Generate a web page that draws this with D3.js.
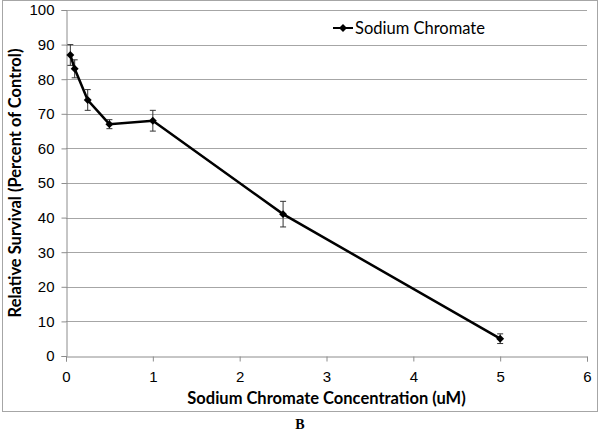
<!DOCTYPE html>
<html>
<head>
<meta charset="utf-8">
<script src="https://cdn.jsdelivr.net/npm/d3@7"></script>
<style>
  body { margin: 0; background: #fff; }
  svg { display: block; font-family: Lato, "Open Sans", sans-serif; }
</style>
</head>
<body>
<svg id="chart" width="600" height="432"></svg>
<script>
const concentration = [0.05, 0.1, 0.25, 0.5, 1, 2.5, 5];
const survival = [87, 83, 74, 67, 68, 41, 5];
const errorBar = [3, 2.6, 3, 1.3, 3, 3.7, 1.4];
const xTicks = [0, 1, 2, 3, 4, 5, 6];
const yTicks = [0, 10, 20, 30, 40, 50, 60, 70, 80, 90, 100];
const seriesName = "Sodium Chromate";

const data = concentration.map((c, i) => ({ x: c, y: survival[i], e: errorBar[i] }));

const svg = d3.select("#chart");
const plot = { left: 66, right: 587, top: 10, bottom: 356 };

// outer frame
svg.append("rect")
    .attr("x", 2.5).attr("y", 0.5)
    .attr("width", 595).attr("height", 411)
    .attr("fill", "none")
    .attr("stroke", "#a6a6a6");

const xScale = d3.scaleLinear().domain([0, 6]).range([plot.left, plot.right]);
const yScale = d3.scaleLinear().domain([0, 100]).range([plot.bottom, plot.top]);

// gridlines
svg.append("g")
    .selectAll("line")
    .data(yTicks.filter((d) => d > 0))
    .join("line")
    .attr("x1", plot.left).attr("x2", plot.right)
    .attr("y1", (d) => Math.round(yScale(d)) + 0.5)
    .attr("y2", (d) => Math.round(yScale(d)) + 0.5)
    .attr("stroke", "#a6a6a6");

const xAxis = svg.append("g")
    .attr("transform", `translate(0, ${plot.bottom + 0.5})`)
    .call(d3.axisBottom(xScale).tickValues(xTicks).tickFormat(d3.format("d")).tickSize(5).tickPadding(10));
const yAxis = svg.append("g")
    .attr("transform", `translate(${plot.left + 0.5}, 0)`)
    .call(d3.axisLeft(yScale).tickValues(yTicks).tickSize(5).tickPadding(7));

[xAxis, yAxis].forEach((ax) => {
    ax.select(".domain").attr("stroke", "#8c8c8c");
    ax.selectAll(".tick line").attr("stroke", "#8c8c8c");
    ax.selectAll(".tick text").attr("fill", "#000").style("font-size", "15px");
});

// error bars
const eb = svg.append("g").attr("stroke", "#333").attr("stroke-width", 1);
data.forEach((d) => {
    const x = xScale(d.x);
    eb.append("line").attr("x1", x).attr("x2", x).attr("y1", yScale(d.y + d.e)).attr("y2", yScale(d.y - d.e));
    eb.append("line").attr("x1", x - 3).attr("x2", x + 3).attr("y1", yScale(d.y + d.e)).attr("y2", yScale(d.y + d.e));
    eb.append("line").attr("x1", x - 3).attr("x2", x + 3).attr("y1", yScale(d.y - d.e)).attr("y2", yScale(d.y - d.e));
});

const line = d3.line().x((d) => xScale(d.x)).y((d) => yScale(d.y));
svg.append("path")
    .datum(data)
    .attr("d", line)
    .attr("fill", "none")
    .attr("stroke", "#000")
    .attr("stroke-width", 2.5);

const diamond = d3.symbol().type(d3.symbolDiamond2).size(40);
svg.append("g")
    .selectAll("path")
    .data(data)
    .join("path")
    .attr("transform", (d) => `translate(${xScale(d.x)}, ${yScale(d.y)})`)
    .attr("d", diamond)
    .attr("fill", "#000");

// legend
const legend = svg.append("g").attr("transform", "translate(333, 28)");
legend.append("line").attr("x1", 0).attr("x2", 20).attr("y1", 0).attr("y2", 0)
    .attr("stroke", "#000").attr("stroke-width", 2);
legend.append("path").attr("transform", "translate(10, 0)").attr("d", diamond).attr("fill", "#000");
legend.append("text").attr("x", 22).attr("y", 0).attr("dy", "0.35em")
    .style("font-size", "16.5px").text(seriesName);

// axis titles
svg.append("text")
    .attr("x", (plot.left + plot.right) / 2).attr("y", 404)
    .attr("text-anchor", "middle")
    .style("font-size", "16.5px").style("font-weight", "bold")
    .text("Sodium Chromate Concentration (uM)");

svg.append("text")
    .attr("transform", `translate(21, ${(plot.top + plot.bottom) / 2}) rotate(-90)`)
    .attr("text-anchor", "middle")
    .style("font-size", "16.5px").style("font-weight", "bold")
    .text("Relative Survival (Percent of Control)");

svg.append("text")
    .attr("x", 300).attr("y", 429)
    .attr("text-anchor", "middle")
    .style("font-family", "'Liberation Serif', serif")
    .style("font-size", "14px").style("font-weight", "bold")
    .text("B");
</script>
</body>
</html>
